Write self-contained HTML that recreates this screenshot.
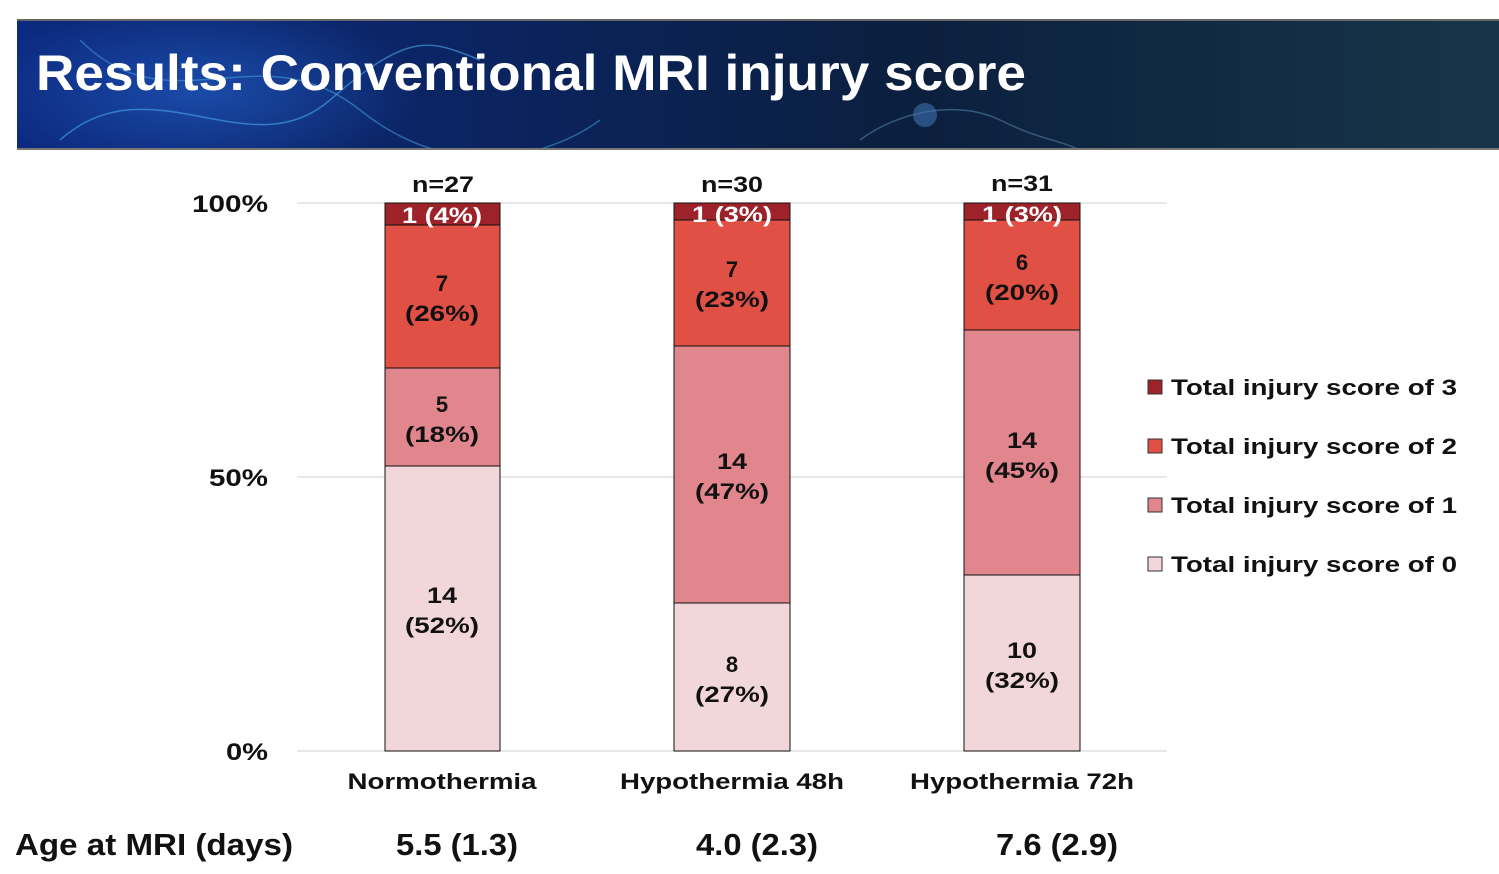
<!DOCTYPE html>
<html><head><meta charset="utf-8"><style>
html,body{margin:0;padding:0;background:#fff;width:1499px;height:874px;overflow:hidden}
svg{display:block}
text{font-family:"Liberation Sans",Arial,sans-serif;font-weight:bold}
</style></head><body>
<svg width="1499" height="874" viewBox="0 0 1499 874">
<defs>
<linearGradient id="hg" x1="0" x2="1" y1="0" y2="0">
<stop offset="0" stop-color="#0c2a80"/><stop offset="0.3" stop-color="#0b2462"/><stop offset="0.6" stop-color="#0b1f3e"/><stop offset="1" stop-color="#173548"/>
</linearGradient>
<radialGradient id="glow" cx="0.5" cy="0.5" r="0.5"><stop offset="0" stop-color="#2a6fe0" stop-opacity="0.5"/><stop offset="1" stop-color="#2a6fe0" stop-opacity="0"/></radialGradient>
<clipPath id="hc"><rect x="17" y="19" width="1482" height="131"/></clipPath>
</defs>
<rect x="17" y="19" width="1482" height="131" fill="url(#hg)"/>
<g clip-path="url(#hc)">
<ellipse cx="200" cy="90" rx="220" ry="90" fill="url(#glow)"/>
<path d="M60 140 C150 60,250 170,330 100 S430 40,480 60" stroke="#4aa8e8" stroke-width="1.5" fill="none" opacity="0.6"/>
<path d="M80 40 C170 130,260 30,360 110 S560 150,600 120" stroke="#4aa8e8" stroke-width="1.5" fill="none" opacity="0.5"/>
<path d="M860 140 C900 110,960 100,1000 120 S1060 140,1080 150" stroke="#5f8fb8" stroke-width="1.5" fill="none" opacity="0.5"/>
<circle cx="925" cy="115" r="12" fill="#3f72b0" opacity="0.6"/>
</g>
<rect x="17" y="19" width="1482" height="2" fill="#666"/>
<rect x="17" y="148" width="1482" height="2" fill="#777"/>
<text x="36" y="90" font-size="50" fill="#fff" textLength="990" lengthAdjust="spacingAndGlyphs">Results: Conventional MRI injury score</text>

<g stroke="#d9d9d9" stroke-width="1.2">
<line x1="297" y1="203" x2="1167" y2="203"/>
<line x1="297" y1="477" x2="1167" y2="477"/>
<line x1="297" y1="751" x2="1167" y2="751"/>
</g>
<g font-size="24" fill="#111">
<text x="192" y="212" textLength="76" lengthAdjust="spacingAndGlyphs">100%</text>
<text x="209" y="486" textLength="59" lengthAdjust="spacingAndGlyphs">50%</text>
<text x="226" y="760" textLength="42" lengthAdjust="spacingAndGlyphs">0%</text>
</g>

<g stroke="#111" stroke-width="1">
<rect x="385" y="466" width="115" height="285" fill="#f2d7da"/>
<rect x="385" y="368" width="115" height="98" fill="#e0868c"/>
<rect x="385" y="225" width="115" height="143" fill="#e05045"/>
<rect x="385" y="203" width="115" height="22" fill="#9e2229"/>
<rect x="674" y="603" width="116" height="148" fill="#f2d7da"/>
<rect x="674" y="346" width="116" height="257" fill="#e0868c"/>
<rect x="674" y="220" width="116" height="126" fill="#e05045"/>
<rect x="674" y="203" width="116" height="17" fill="#9e2229"/>
<rect x="964" y="575" width="116" height="176" fill="#f2d7da"/>
<rect x="964" y="330" width="116" height="245" fill="#e0868c"/>
<rect x="964" y="220" width="116" height="110" fill="#e05045"/>
<rect x="964" y="203" width="116" height="17" fill="#9e2229"/>
</g>

<g font-size="22" fill="#111" text-anchor="middle">
<text x="443" y="192" textLength="62" lengthAdjust="spacingAndGlyphs">n=27</text>
<text x="732" y="192" textLength="62" lengthAdjust="spacingAndGlyphs">n=30</text>
<text x="1022" y="191" textLength="62" lengthAdjust="spacingAndGlyphs">n=31</text>
<text x="442" y="223" fill="#fff" textLength="80" lengthAdjust="spacingAndGlyphs">1 (4%)</text>
<text x="732" y="222" fill="#fff" textLength="80" lengthAdjust="spacingAndGlyphs">1 (3%)</text>
<text x="1022" y="222" fill="#fff" textLength="80" lengthAdjust="spacingAndGlyphs">1 (3%)</text>
<text x="442" y="291">7</text><text x="442" y="321" textLength="74" lengthAdjust="spacingAndGlyphs">(26%)</text>
<text x="442" y="412">5</text><text x="442" y="442" textLength="74" lengthAdjust="spacingAndGlyphs">(18%)</text>
<text x="442" y="603" textLength="30" lengthAdjust="spacingAndGlyphs">14</text><text x="442" y="633" textLength="74" lengthAdjust="spacingAndGlyphs">(52%)</text>
<text x="732" y="277">7</text><text x="732" y="307" textLength="74" lengthAdjust="spacingAndGlyphs">(23%)</text>
<text x="732" y="469" textLength="30" lengthAdjust="spacingAndGlyphs">14</text><text x="732" y="499" textLength="74" lengthAdjust="spacingAndGlyphs">(47%)</text>
<text x="732" y="672">8</text><text x="732" y="702" textLength="74" lengthAdjust="spacingAndGlyphs">(27%)</text>
<text x="1022" y="270">6</text><text x="1022" y="300" textLength="74" lengthAdjust="spacingAndGlyphs">(20%)</text>
<text x="1022" y="448" textLength="30" lengthAdjust="spacingAndGlyphs">14</text><text x="1022" y="478" textLength="74" lengthAdjust="spacingAndGlyphs">(45%)</text>
<text x="1022" y="658" textLength="30" lengthAdjust="spacingAndGlyphs">10</text><text x="1022" y="688" textLength="74" lengthAdjust="spacingAndGlyphs">(32%)</text>
<text x="442" y="789" textLength="189" lengthAdjust="spacingAndGlyphs">Normothermia</text>
<text x="732" y="789" textLength="224" lengthAdjust="spacingAndGlyphs">Hypothermia 48h</text>
<text x="1022" y="789" textLength="224" lengthAdjust="spacingAndGlyphs">Hypothermia 72h</text>
</g>

<g stroke="#333" stroke-width="1">
<rect x="1148" y="380" width="14" height="14" fill="#9e2229"/>
<rect x="1148" y="439" width="14" height="14" fill="#e05045"/>
<rect x="1148" y="498" width="14" height="14" fill="#e0868c"/>
<rect x="1148" y="557" width="14" height="14" fill="#f2d7da"/>
</g>
<g font-size="22" fill="#111">
<text x="1171" y="395" textLength="286" lengthAdjust="spacingAndGlyphs">Total injury score of 3</text>
<text x="1171" y="454" textLength="286" lengthAdjust="spacingAndGlyphs">Total injury score of 2</text>
<text x="1171" y="513" textLength="286" lengthAdjust="spacingAndGlyphs">Total injury score of 1</text>
<text x="1171" y="572" textLength="286" lengthAdjust="spacingAndGlyphs">Total injury score of 0</text>
</g>

<g font-size="31" fill="#111">
<text x="15" y="855" textLength="278" lengthAdjust="spacingAndGlyphs">Age at MRI (days)</text>
<text x="396" y="855" textLength="122" lengthAdjust="spacingAndGlyphs">5.5 (1.3)</text>
<text x="696" y="855" textLength="122" lengthAdjust="spacingAndGlyphs">4.0 (2.3)</text>
<text x="996" y="855" textLength="122" lengthAdjust="spacingAndGlyphs">7.6 (2.9)</text>
</g>
</svg>
</body></html>
